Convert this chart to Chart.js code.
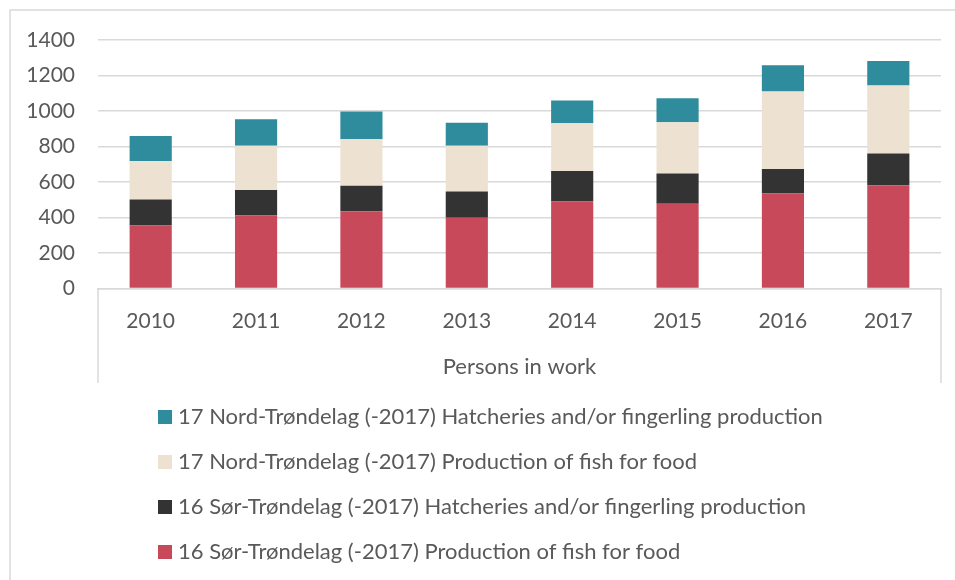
<!DOCTYPE html>
<html lang="en">
<head>
    <meta charset="UTF-8">
    <title>Persons in work</title>
    <script src="https://cdn.jsdelivr.net/npm/chart.js"></script>
    <style>
        html, body { margin: 0; padding: 0; background: #fff; }
        #wrap { width: 955px; height: 580px; position: relative; }
    </style>
</head>
<body>
    <div id="wrap"><canvas id="fishChart" width="955" height="580"></canvas></div>
    <script>
        const years = ['2010', '2011', '2012', '2013', '2014', '2015', '2016', '2017'];
        const sorFood = [354, 411, 435, 398, 490, 477, 535, 582];
        const sorHatch = [147, 143, 143, 148, 171, 171, 138, 179];
        const nordFood = [217, 250, 262, 258, 270, 288, 437, 383];
        const nordHatch = [141, 149, 157, 129, 128, 136, 148, 137];
        const yTicks = [0, 200, 400, 600, 800, 1000, 1200, 1400];

        const textColor = '#595959';
        const lineColor = '#d9d9d9';
        const fontFamily = 'Lato, "Open Sans", sans-serif';

        // borders round the chart and round the category axis, plus the legend list
        const framePlugin = {
            id: 'frame',
            afterDraw(chart) {
                const ctx = chart.ctx;
                const area = chart.chartArea;
                const xs = chart.scales.x;
                ctx.save();
                ctx.strokeStyle = lineColor;
                ctx.lineWidth = 1.5;
                ctx.beginPath();
                ctx.moveTo(10, 580);
                ctx.lineTo(10, 10);
                ctx.lineTo(955, 10);
                ctx.stroke();
                ctx.beginPath();
                ctx.moveTo(area.left, area.bottom);
                ctx.lineTo(area.left, xs.bottom);
                ctx.moveTo(area.right, area.bottom);
                ctx.lineTo(area.right, xs.bottom);
                ctx.stroke();

                // legend, top entry is the top stack
                const items = chart.data.datasets.slice().reverse();
                ctx.font = '22px ' + fontFamily;
                ctx.textBaseline = 'middle';
                ctx.textAlign = 'left';
                items.forEach((ds, i) => {
                    const cy = 417 + i * 45;
                    ctx.fillStyle = ds.backgroundColor;
                    ctx.fillRect(158, cy - 7, 14, 14);
                    ctx.fillStyle = textColor;
                    ctx.fillText(ds.label, 178, cy);
                });
                ctx.restore();
            }
        };

        const ctx = document.getElementById('fishChart').getContext('2d');
        new Chart(ctx, {
            type: 'bar',
            data: {
                labels: years,
                datasets: [
                    { label: '16 Sør-Trøndelag (-2017) Production of fish for food', data: sorFood, backgroundColor: '#c84a5a' },
                    { label: '16 Sør-Trøndelag (-2017) Hatcheries and/or fingerling production', data: sorHatch, backgroundColor: '#333333' },
                    { label: '17 Nord-Trøndelag (-2017) Production of fish for food', data: nordFood, backgroundColor: '#ede1d1' },
                    { label: '17 Nord-Trøndelag (-2017) Hatcheries and/or fingerling production', data: nordHatch, backgroundColor: '#2e8c9d' }
                ]
            },
            options: {
                responsive: false,
                animation: false,
                layout: { padding: { left: 0, right: 14, top: 40, bottom: 197 } },
                datasets: { bar: { barPercentage: 0.4, categoryPercentage: 1 } },
                plugins: {
                    legend: { display: false },
                    tooltip: { enabled: false }
                },
                scales: {
                    x: {
                        stacked: true,
                        grid: { display: false, drawTicks: false },
                        border: { display: true, color: lineColor, width: 1.5 },
                        ticks: { color: textColor, font: { size: 21, family: fontFamily }, padding: 20, maxRotation: 0 },
                        title: {
                            display: true,
                            text: 'Persons in work',
                            color: textColor,
                            font: { size: 22, family: fontFamily },
                            padding: { top: 0, bottom: 3 }
                        }
                    },
                    y: {
                        stacked: true,
                        min: 0,
                        max: 1400,
                        afterFit(scale) { scale.width = 98; },
                        afterBuildTicks(scale) { scale.ticks = yTicks.map(v => ({ value: v })); },
                        grid: { color: lineColor, lineWidth: 1.5, drawTicks: false },
                        border: { display: false },
                        ticks: {
                            color: textColor,
                            font: { size: 21, family: fontFamily },
                            padding: 23,
                            callback: v => String(v)
                        }
                    }
                }
            },
            plugins: [framePlugin]
        });
    </script>
</body>
</html>
